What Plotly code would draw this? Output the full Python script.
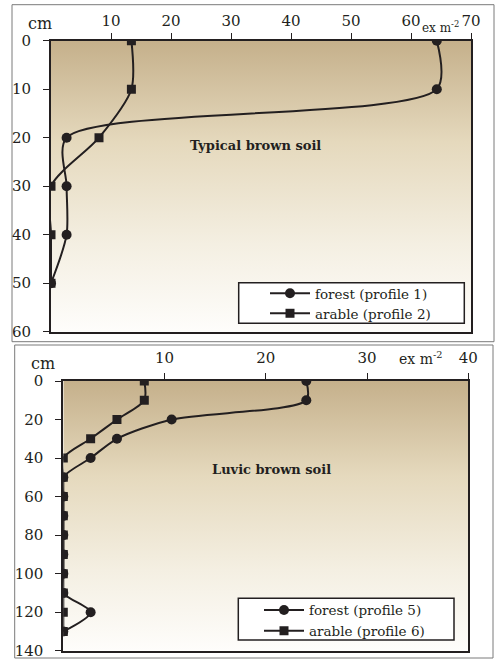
import plotly.graph_objects as go

# ---------------- data ----------------
depth_top = [0, 10, 20, 30, 40, 50]
forest_p1 = [64.3, 64.3, 2.6, 2.6, 2.6, 0]
arable_p2 = [13.4, 13.4, 8.0, 0, 0, 0]
xticks_top = [10, 20, 30, 40, 50, 60, 70]
yticks_top = [0, 10, 20, 30, 40, 50, 60]

depth_bot = [0, 10, 20, 30, 40, 50, 60, 70, 80, 90, 100, 110, 120, 130]
forest_p5 = [24.0, 24.0, 10.7, 5.3, 2.7, 0, 0, 0, 0, 0, 0, 0, 2.7, 0]
arable_p6 = [8.0, 8.0, 5.3, 2.7, 0, 0, 0, 0, 0, 0, 0, 0, 0, 0]
xticks_bot = [10, 20, 30, 40]
yticks_bot = [0, 20, 40, 60, 80, 100, 120, 140]

XR_TOP, YR_TOP = [0, 70], [0, 60]
XR_BOT, YR_BOT = [0, 40], [0, 140]

W, H = 496, 661
FONT = "DejaVu Serif, Liberation Serif, serif"
INK = "#231f20"
TAN = "#c5b08b"
GRAD = [[0, TAN], [0.35, "#e5d9bd"], [0.7, "#f4efe2"], [1, "#fefdfb"]]


def px(x):
    return x / W


def py(y):
    return 1 - y / H


fig = go.Figure()

# gradient backgrounds
for xr, yr, xa, ya in [(XR_TOP, YR_TOP, "x", "y"), (XR_BOT, YR_BOT, "x2", "y2")]:
    fig.add_trace(go.Scatter(
        x=[xr[0], xr[1], xr[1], xr[0], xr[0]],
        y=[yr[0], yr[0], yr[1], yr[1], yr[0]],
        xaxis=xa, yaxis=ya, mode="none", fill="toself",
        fillgradient=dict(type="vertical", colorscale=GRAD, start=yr[0], stop=yr[1]),
        hoverinfo="skip", showlegend=False))

line = dict(color=INK, width=2, shape="spline", smoothing=0.8)

fig.add_trace(go.Scatter(x=forest_p1, y=depth_top, name="forest (profile 1)", mode="lines+markers",
                         line=line, marker=dict(symbol="circle", size=10, color=INK),
                         xaxis="x", yaxis="y", legend="legend"))
fig.add_trace(go.Scatter(x=arable_p2, y=depth_top, name="arable (profile 2)", mode="lines+markers",
                         line=line, marker=dict(symbol="square", size=9, color=INK),
                         xaxis="x", yaxis="y", legend="legend2"))
fig.add_trace(go.Scatter(x=forest_p5, y=depth_bot, name="forest (profile 5)", mode="lines+markers",
                         line=line, marker=dict(symbol="circle", size=10, color=INK),
                         xaxis="x2", yaxis="y2", legend="legend3"))
fig.add_trace(go.Scatter(x=arable_p6, y=depth_bot, name="arable (profile 6)", mode="lines+markers",
                         line=line, marker=dict(symbol="square", size=9, color=INK),
                         xaxis="x2", yaxis="y2", legend="legend4"))

axcommon = dict(showgrid=False, zeroline=False, showline=True, linecolor=INK, linewidth=2,
                mirror=True, ticks="outside", ticklen=6, tickcolor=INK, tickwidth=1,
                automargin=False,
                tickfont=dict(family=FONT, size=15, color=INK))

LEG_SIZE = 13.5


def leg(xc, yc):
    return dict(x=px(xc), y=py(yc - 15.3), xanchor="left", yanchor="top",
                bgcolor="rgba(0,0,0,0)", borderwidth=0,
                font=dict(family=FONT, size=LEG_SIZE, color=INK), itemwidth=40)


fig.update_layout(
    width=W, height=H, margin=dict(l=0, r=0, t=0, b=0, autoexpand=False),
    paper_bgcolor="white", plot_bgcolor="rgba(0,0,0,0)",
    xaxis=dict(axcommon, domain=[px(51), px(471)], range=XR_TOP, side="top",
               tickvals=xticks_top, anchor="y", ticklabelstandoff=1),
    yaxis=dict(axcommon, domain=[py(331.7), py(40.7)], range=YR_TOP[::-1],
               tickvals=yticks_top, anchor="x", ticklabelstandoff=9),
    xaxis2=dict(axcommon, domain=[px(63.3), px(468.3)], range=XR_BOT, side="top",
                tickvals=xticks_bot, anchor="y2", ticklabelstandoff=4),
    yaxis2=dict(axcommon, domain=[py(650.7), py(381)], range=YR_BOT[::-1],
                tickvals=yticks_bot, anchor="x2", ticklabelstandoff=9),
    legend=leg(265, 293.3),
    legend2=leg(265, 313.3),
    legend3=leg(259, 610),
    legend4=leg(259, 630.7),
    showlegend=True,
)

shapes = [
    # outer panel frames
    dict(type="rect", xref="paper", yref="paper", x0=px(12), x1=px(494), y0=py(341.7), y1=py(4.7),
         line=dict(color="#7a7a7a", width=1), layer="below"),
    dict(type="rect", xref="paper", yref="paper", x0=px(14.7), x1=px(493), y0=py(658), y1=py(345),
         line=dict(color="#7a7a7a", width=1), layer="below"),
    # legend boxes
    dict(type="rect", xref="paper", yref="paper", x0=px(238.7), x1=px(464.3), y0=py(323.3), y1=py(282.7),
         line=dict(color=INK, width=1.5), fillcolor="white", layer="above"),
    dict(type="rect", xref="paper", yref="paper", x0=px(238.3), x1=px(454), y0=py(640), y1=py(598.3),
         line=dict(color=INK, width=1.5), fillcolor="white", layer="above"),
]
fig.update_layout(shapes=shapes)

ann = []
ann.append(dict(text="cm", x=px(40), y=py(23), xref="paper", yref="paper", showarrow=False,
                font=dict(family=FONT, size=16, color=INK), xanchor="center", yanchor="middle"))
ann.append(dict(text="ex m<sup>-2</sup>", x=px(440), y=py(27), xref="paper", yref="paper", showarrow=False,
                font=dict(family=FONT, size=12, color=INK), xanchor="center", yanchor="middle"))
ann.append(dict(text="<b>Typical brown soil</b>", x=px(255.5), y=py(145), xref="paper", yref="paper",
                showarrow=False, font=dict(family=FONT, size=13, color=INK), xanchor="center", yanchor="middle"))
ann.append(dict(text="cm", x=px(43), y=py(363), xref="paper", yref="paper", showarrow=False,
                font=dict(family=FONT, size=16, color=INK), xanchor="center", yanchor="middle"))
ann.append(dict(text="ex m<sup>-2</sup>", x=px(420), y=py(358), xref="paper", yref="paper", showarrow=False,
                font=dict(family=FONT, size=14, color=INK), xanchor="center", yanchor="middle"))
ann.append(dict(text="<b>Luvic brown soil</b>", x=px(271), y=py(470), xref="paper", yref="paper",
                showarrow=False, font=dict(family=FONT, size=13, color=INK), xanchor="center", yanchor="middle"))
fig.update_layout(annotations=ann)

fig.write_html("out.html", config={"displayModeBar": False},
               post_script="document.body.style.margin='0';")
